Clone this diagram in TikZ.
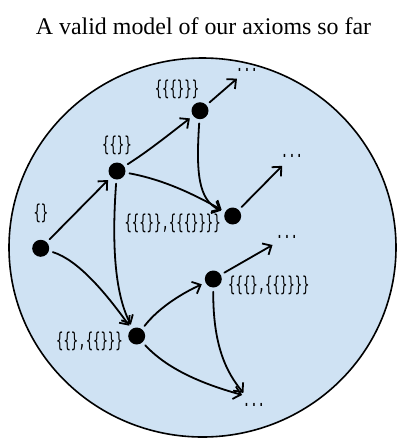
\documentclass[tikz,border=0pt]{standalone}
\usepackage{fontspec}
\setmainfont{Liberation Serif}
\newfontfamily\handfont{DejaVu Sans Mono}
\usetikzlibrary{arrows.meta}
\definecolor{bubble}{HTML}{CFE2F3}
\newcommand{\lab}[1]{\scalebox{0.6}[1]{\handfont\fontsize{20.5}{22}\selectfont #1}}
\begin{document}
\begin{tikzpicture}[x=1pt,y=-1pt,
  dot/.style={circle,fill=black,minimum size=17pt,inner sep=0pt},
  arr/.style={line width=1.8pt,line cap=round,-{Straight Barb[length=7pt,width=13pt,line width=1.8pt]},shorten <=4pt,shorten >=4pt},
  dts/.style={inner sep=0pt}]
\useasboundingbox (0,0) rectangle (409,448);
\node[anchor=base,inner sep=0pt,font=\fontsize{23.9}{28}\selectfont] (title) at (203.5,34) {A valid model of our axioms so far};
\draw[line width=1.6pt,fill=bubble] (202.5,247.5) ellipse [x radius=193.5,y radius=189.5];
% nodes
\node[dot] (n0) at (40.7,248.3) {};
\node[dot] (n1) at (117,171) {};
\node[dot] (n2) at (200,110.7) {};
\node[dot] (n3) at (232.7,216) {};
\node[dot] (n4) at (136.7,336) {};
\node[dot] (n5) at (213.3,279) {};
% labels
\node[inner sep=0pt] (l0) at (41,213) {\lab{\{\}}};
\node[inner sep=0pt] (l1) at (117,145) {\lab{\{\{\}\}}};
\node[inner sep=0pt] (l2) at (177,89) {\lab{\{\{\{\}\}\}}};
\node[inner sep=0pt,anchor=east] (l3) at (221,223) {\lab{\{\{\{\}\},\{\{\{\}\}\}\}}};
\node[inner sep=0pt,anchor=east] (l4) at (123,341) {\lab{\{\{\},\{\{\}\}\}}};
\node[inner sep=0pt,anchor=west] (l5) at (228,285) {\lab{\{\{\{\},\{\{\}\}\}\}}};
% dots
\node[dts] (d1) at (247,70) {\lab{...}};
\node[dts] (d2) at (292,156) {\lab{...}};
\node[dts] (d3) at (287,237) {\lab{...}};
\node[dts] (d4) at (254,405) {\lab{...}};
\coordinate (e1) at (240,76);
\coordinate (e2) at (285,163);
\coordinate (e3) at (276,243);
\coordinate (e4) at (246,396);
% edges
\draw[arr] (n0) -- (n1);
\draw[arr] (n0) .. controls (78,260) and (105,292) .. (n4);
\draw[arr] (n1) .. controls (150,150) and (172,132) .. (n2);
\draw[arr] (n1) .. controls (165,180) and (195,195) .. (n3);
\draw[arr] (n1) .. controls (112,240) and (114,292) .. (n4);
\draw[arr] (n2) -- (e1);
\draw[arr] (n2) .. controls (196,172) and (198,200) .. (n3);
\draw[arr] (n3) -- (e2);
\draw[arr] (n4) .. controls (160,306) and (185,292) .. (n5);
\draw[arr] (n4) .. controls (170,372) and (210,386) .. (e4);
\draw[arr] (n5) -- (e3);
\draw[arr] (n5) .. controls (213,345) and (226,372) .. (e4);
\end{tikzpicture}
\end{document}
